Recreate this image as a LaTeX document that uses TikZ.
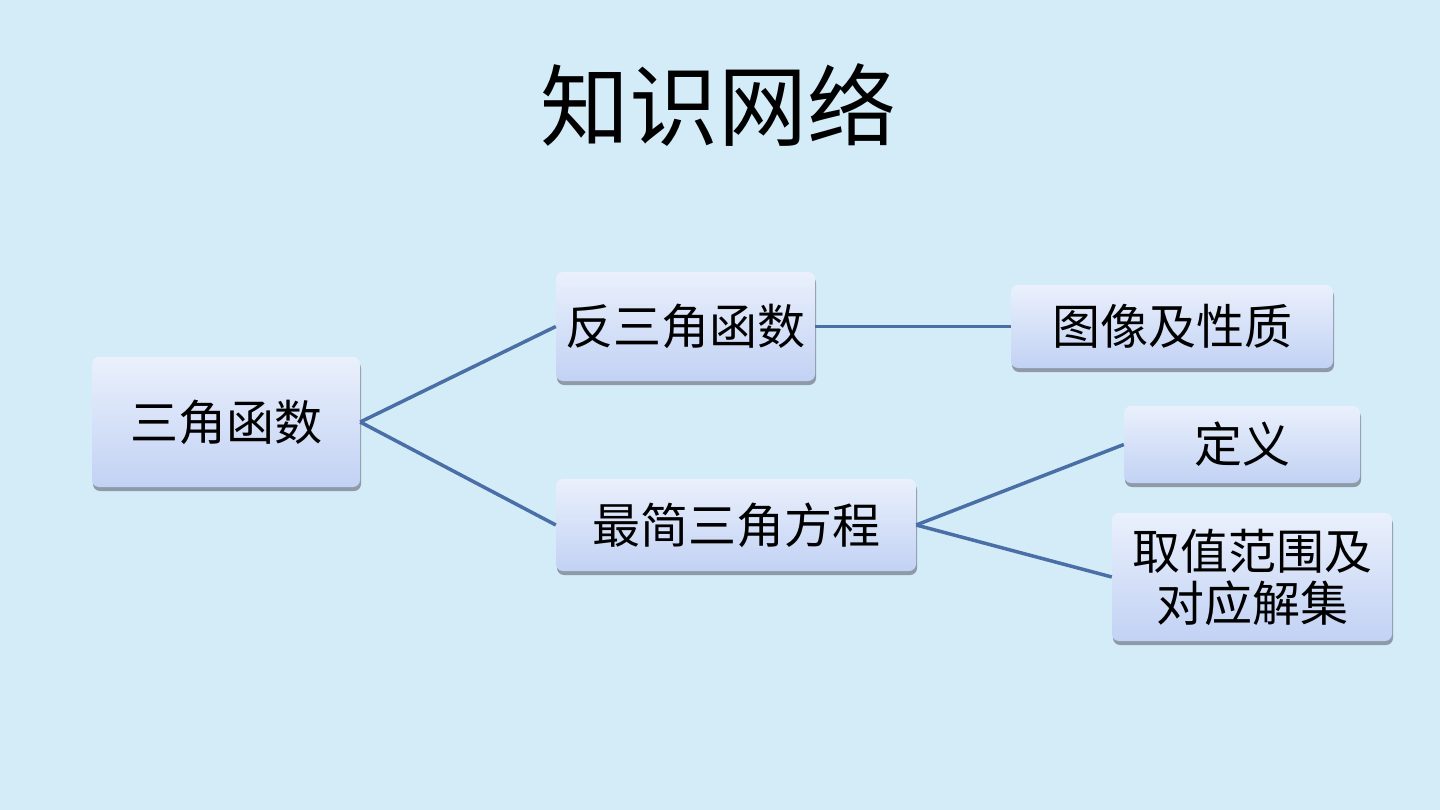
\documentclass[tikz,border=0pt]{standalone}
\usepackage{fontspec}
\setmainfont{Noto Sans CJK SC}
\begin{document}
\begin{tikzpicture}[x=1pt,y=-1pt,
  bx/.style={rounded corners=7pt, top color=boxtop, bottom color=boxbot, draw=none,
    inner sep=0pt, font=\fontsize{48}{52}\selectfont, align=center},
  link/.style={draw=linkc, line width=3.5pt}]
\definecolor{bg}{HTML}{D4ECF7}
\definecolor{boxtop}{HTML}{EAF0FC}
\definecolor{boxbot}{HTML}{C2D2F4}
\definecolor{linkc}{HTML}{4A6EA6}
\definecolor{shad}{HTML}{8E9AA8}
\fill[bg] (0,0) rectangle (1440,810);
\useasboundingbox (0,0) rectangle (1440,810);
\node (title) at (718,105) {\fontsize{89}{96}\selectfont 知识网络};
% shadows
\foreach \a/\b/\c/\d in {92/357/360/487, 556/272/815/381, 1011/285/1333/368, 556/479/916/571, 1124/406/1360/483, 1112/513/1392/641}
  \fill[shad, rounded corners=7pt] (\a+1,\b+4) rectangle (\c+1,\d+4);
\node[bx, minimum width=268pt, minimum height=130pt] (trig) at (226,422) {三角函数};
\node[bx, minimum width=259pt, minimum height=109pt] (inv) at (685.5,326.5) {反三角函数};
\node[bx, minimum width=322pt, minimum height=83pt] (graph) at (1172,326.5) {图像及性质};
\node[bx, minimum width=360pt, minimum height=92pt] (eq) at (736,525) {最简三角方程};
\node[bx, minimum width=236pt, minimum height=77pt] (def) at (1242,444.5) {定义};
\node[bx, minimum width=280pt, minimum height=128pt] (range) at (1252,577) {取值范围及\\对应解集};
\draw[link] (trig.east) -- (inv.west);
\draw[link] (trig.east) -- (eq.west);
\draw[link] (inv.east) -- (graph.west);
\draw[link] (eq.east) -- (def.west);
\draw[link] (eq.east) -- (range.west);
\end{tikzpicture}
\end{document}
